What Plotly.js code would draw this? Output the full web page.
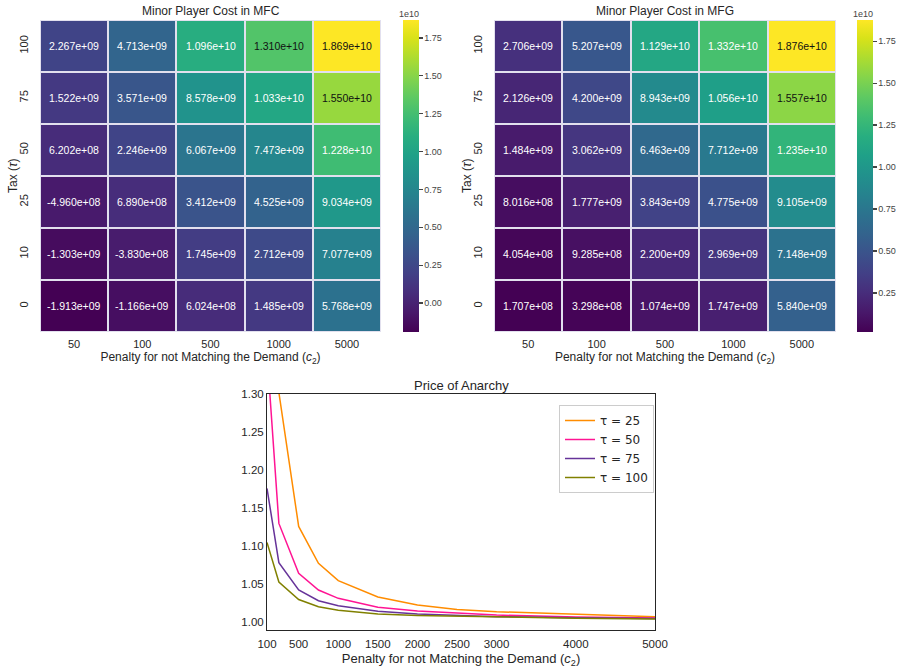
<!DOCTYPE html>
<html><head><meta charset="utf-8">
<script src="https://cdn.plot.ly/plotly-3.0.1.min.js"></script>
<style>html,body{margin:0;padding:0;background:#fff}#chart{width:897px;height:668px}</style>
</head><body><div id="chart"></div>
<script>
// ---- data ----
const penaltyCats = ['50','100','500','1000','5000'];
const taxCats = ['0','10','25','50','75','100']; // bottom -> top
const mfcCost = [
  [-1.913e9, -1.166e9, 6.024e8, 1.485e9, 5.768e9],
  [-1.303e9, -3.830e8, 1.745e9, 2.712e9, 7.077e9],
  [-4.960e8, 6.890e8, 3.412e9, 4.525e9, 9.034e9],
  [6.202e8, 2.246e9, 6.067e9, 7.473e9, 1.228e10],
  [1.522e9, 3.571e9, 8.578e9, 1.033e10, 1.550e10],
  [2.267e9, 4.713e9, 1.096e10, 1.310e10, 1.869e10]
];
const mfgCost = [
  [1.707e8, 3.298e8, 1.074e9, 1.747e9, 5.840e9],
  [4.054e8, 9.285e8, 2.200e9, 2.969e9, 7.148e9],
  [8.016e8, 1.777e9, 3.843e9, 4.775e9, 9.105e9],
  [1.484e9, 3.062e9, 6.463e9, 7.712e9, 1.235e10],
  [2.126e9, 4.200e9, 8.943e9, 1.056e10, 1.557e10],
  [2.706e9, 5.207e9, 1.129e10, 1.332e10, 1.876e10]
];
const cbTickVals = [0, 0.25e10, 0.5e10, 0.75e10, 1.0e10, 1.25e10, 1.5e10, 1.75e10];
const cbTickText = ['0.00','0.25','0.50','0.75','1.00','1.25','1.50','1.75'];

const poaPenalty = [100, 250, 500, 750, 1000, 1500, 2000, 2500, 3000, 4000, 5000];
const poaTau25  = [1.55, 1.302, 1.126, 1.0776, 1.0548, 1.0333, 1.0228, 1.017, 1.014, 1.0105, 1.0075];
const poaTau50  = [1.354, 1.130, 1.0645, 1.0425, 1.0316, 1.020, 1.015, 1.012, 1.0096, 1.007, 1.0057];
const poaTau75  = [1.176, 1.0785, 1.0425, 1.0285, 1.022, 1.0145, 1.011, 1.009, 1.0075, 1.006, 1.005];
const poaTau100 = [1.105, 1.053, 1.030, 1.0206, 1.016, 1.011, 1.009, 1.008, 1.007, 1.0055, 1.0045];
const poaXTicks = [100, 500, 1000, 1500, 2000, 2500, 3000, 4000, 5000];
const poaYTicks = [1.00, 1.05, 1.10, 1.15, 1.20, 1.25, 1.30];

// ---- helpers ----
function fmtE(v){
  let s = v.toExponential(3);
  return s.replace(/e([+-])(\d)$/, 'e$10$2');
}
const FONT = 'Liberation Sans, Arial, sans-serif';
const W = 897, H = 668;
const px = x => x / W, py = y => 1 - y / H;
const colIdx = penaltyCats.map((_, i) => i);
const rowIdx = taxCats.map((_, i) => i);

function heat(z, xa, ya, cbx){
  const flat = z.flat();
  const zmin = Math.min(...flat), zmax = Math.max(...flat);
  return {
    type: 'heatmap', z: z, x: colIdx, y: rowIdx, xaxis: xa, yaxis: ya,
    colorscale: 'Viridis', zmin: zmin, zmax: zmax, xgap: 2, ygap: 2,
    hoverinfo: 'skip', showscale: true,
    colorbar: {
      x: cbx, xanchor: 'left', y: py(332), yanchor: 'bottom', len: 312 / H, lenmode: 'fraction',
      xpad: 0, ypad: 0,
      thickness: 16, outlinewidth: 0, ticks: 'outside', ticklen: 4, tickwidth: 1.2, tickcolor: '#444',
      tickvals: cbTickVals, ticktext: cbTickText,
      tickfont: {family: FONT, size: 9, color: '#444'}
    }
  };
}
function cellAnnotations(z, xa, ya){
  const flat = z.flat();
  const zmin = Math.min(...flat), zmax = Math.max(...flat);
  const out = [];
  z.forEach((row, i) => row.forEach((v, j) => {
    const t = (v - zmin) / (zmax - zmin);
    out.push({x: colIdx[j], y: rowIdx[i], xref: xa, yref: ya, text: fmtE(v), showarrow: false,
      xanchor:'center', yanchor:'middle',
      font: {family: FONT, size: 10.5, color: t > 0.72 ? '#111' : '#fff'}});
  }));
  return out;
}

const traces = [
  heat(mfcCost, 'x', 'y', px(403)),
  heat(mfgCost, 'x2', 'y2', px(857)),
  {type:'scatter', mode:'lines', x: poaPenalty, y: poaTau25, xaxis:'x3', yaxis:'y3', name:'τ = 25', line:{color:'#ff8c00', width:1.5}},
  {type:'scatter', mode:'lines', x: poaPenalty, y: poaTau50, xaxis:'x3', yaxis:'y3', name:'τ = 50', line:{color:'#ff1493', width:1.5}},
  {type:'scatter', mode:'lines', x: poaPenalty, y: poaTau75, xaxis:'x3', yaxis:'y3', name:'τ = 75', line:{color:'#663399', width:1.5}},
  {type:'scatter', mode:'lines', x: poaPenalty, y: poaTau100, xaxis:'x3', yaxis:'y3', name:'τ = 100', line:{color:'#808000', width:1.5}}
];

const xTitle = 'Penalty for not Matching the Demand (<i>c</i><sub>2</sub>)';
const heatX = (dom, anchor) => ({domain: dom, anchor: anchor, range:[-0.5, 4.5], tickvals: colIdx, ticktext: penaltyCats,
  showgrid:false, zeroline:false, showline:false, ticks:'outside', ticklen:2, tickcolor:'rgba(0,0,0,0)',
  tickfont:{family:FONT, size:11, color:'#262626'}, fixedrange:true,
  title:{text:xTitle, font:{family:FONT, size:12, color:'#262626'}, standoff:2}});
const heatY = (anchor) => ({domain:[py(332), py(20)], anchor: anchor, range:[-0.5, 5.5], tickvals: rowIdx, ticktext: taxCats,
  showgrid:false, zeroline:false, showline:false, ticks:'outside', ticklen:7, tickcolor:'rgba(0,0,0,0)',
  tickangle:-90, tickfont:{family:FONT, size:11, color:'#262626'}, fixedrange:true});

const cen = {showarrow:false, xanchor:'center', yanchor:'middle', xref:'paper', yref:'paper'};
const annotations = [
  Object.assign({x: px(211), y: py(11), text:'Minor Player Cost in MFC', font:{family:FONT, size:12, color:'#262626'}}, cen),
  Object.assign({x: px(665), y: py(11), text:'Minor Player Cost in MFG', font:{family:FONT, size:12, color:'#262626'}}, cen),
  Object.assign({x: px(13), y: py(176), text:'Tax (<i>τ</i>)', textangle:-90, font:{family:FONT, size:12, color:'#262626'}}, cen),
  Object.assign({x: px(467), y: py(176), text:'Tax (<i>τ</i>)', textangle:-90, font:{family:FONT, size:12, color:'#262626'}}, cen),
  Object.assign({x: px(409), y: py(14), text:'1e10', font:{family:FONT, size:9, color:'#444'}}, cen),
  Object.assign({x: px(863), y: py(14), text:'1e10', font:{family:FONT, size:9, color:'#444'}}, cen),
  Object.assign({x: px(461), y: py(385), text:'Price of Anarchy', font:{family:FONT, size:13, color:'#262626'}}, cen),
  ...cellAnnotations(mfcCost, 'x', 'y'),
  ...cellAnnotations(mfgCost, 'x2', 'y2')
];

const layout = {
  width: W, height: H, margin:{l:0, r:0, t:0, b:0},
  paper_bgcolor:'#fff', plot_bgcolor:'#e2e0ee',
  showlegend: true,
  xaxis: heatX([px(40), px(381)], 'y'),
  yaxis: heatY('x'),
  xaxis2: heatX([px(494), px(836)], 'y2'),
  yaxis2: heatY('x2'),
  xaxis3: {domain:[px(267), px(655)], anchor:'y3', range:[100, 5000], tickvals: poaXTicks,
    showgrid:false, zeroline:false, showline:true, mirror:true, linecolor:'#262626', linewidth:1,
    ticks:'outside', ticklen:3, tickcolor:'rgba(0,0,0,0)',
    tickfont:{family:FONT, size:11.5, color:'#262626'},
    title:{text:xTitle, font:{family:FONT, size:13, color:'#262626'}, standoff:7}},
  yaxis3: {domain:[py(630), py(394)], anchor:'x3', range:[0.99, 1.30], tickvals: poaYTicks, tickformat:'.2f',
    showgrid:false, zeroline:false, showline:true, mirror:true, linecolor:'#262626', linewidth:1, ticks:'',
    tickfont:{family:FONT, size:11.5, color:'#262626'}},
  legend:{x: px(559), y: py(405), xanchor:'left', yanchor:'top', bgcolor:'#fff', bordercolor:'#cccccc', borderwidth:1,
    font:{family:'DejaVu Sans, sans-serif', size:12, color:'#262626'}, tracegroupgap:0, itemwidth:30},
  shapes:[{type:'rect', xref:'x3 domain', yref:'y3 domain', x0:0, x1:1, y0:0, y1:1, fillcolor:'#fff', line:{width:0}, layer:'below'}],
  annotations: annotations
};

Plotly.newPlot('chart', traces, layout, {displayModeBar:false, staticPlot:true});
</script>
</body></html>
